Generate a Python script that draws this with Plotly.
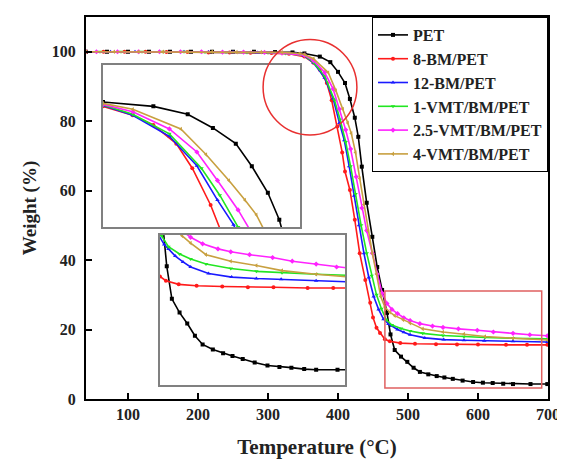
import plotly.graph_objects as go

# ---------------- data ----------------
pet_T = [40, 70, 100, 130, 160, 190, 220, 250, 280, 310, 335, 352, 374, 389, 400, 410, 417, 424, 429, 434,
         441, 449, 456, 463, 470, 475, 481, 490, 499, 508, 517, 529, 541, 552, 564, 578, 593, 607, 621,
         636, 650, 675, 699]
pet_W = [100, 100, 100, 100, 100, 100, 100, 100, 100, 99.9, 99.8, 99.5, 98.6, 97.0, 94.2, 91.0, 86.4, 81.0,
         75.5, 66.9, 56.5, 46.7, 38.0, 31.4, 24.8, 18.6, 14.1, 12.2, 10.7, 9.0, 7.8, 7.1, 6.6, 6.2, 5.8,
         5.3, 4.9, 4.7, 4.6, 4.4, 4.3, 4.3, 4.3]

bm8_T = [40, 65, 95, 125, 155, 185, 215, 245, 275, 305, 330, 352, 365, 374, 384, 391, 399, 406, 410, 417,
         424, 431, 439, 446, 450, 455, 460, 467, 474, 489, 510, 540, 570, 600, 640, 670, 699]
bm8_W = [100, 100, 100, 100, 99.9, 99.9, 99.8, 99.8, 99.7, 99.6, 99.4, 98.6, 96.8, 94.8, 91.0, 86.0, 78.5,
         71.0, 65.5, 60.2, 51.6, 42.0, 34.3, 27.7, 23.5, 20.5, 19.0, 17.2, 16.6, 16.1, 15.9, 15.8, 15.7,
         15.7, 15.6, 15.6, 15.6]

bm12_T = [40, 75, 110, 145, 180, 215, 250, 285, 315, 340, 352, 365, 381, 393, 402, 409, 416, 423, 430, 437,
          444, 451, 458, 465, 472, 477, 485, 494, 503, 524, 551, 580, 609, 650, 699]
bm12_W = [100, 100, 100, 100, 100, 99.9, 99.9, 99.8, 99.7, 99.4, 98.8, 96.8, 92.5, 86.5, 79.5, 74.5, 67.0,
          58.5, 50.0, 42.0, 35.0, 29.5, 25.8, 23.0, 21.6, 21.0, 20.0, 19.2, 18.5, 17.6, 17.1, 16.9, 16.8,
          16.6, 16.4]

vmt1_T = [40, 60, 90, 120, 150, 180, 210, 240, 270, 300, 325, 352, 365, 381, 395, 403, 411, 418, 425, 433,
          441, 448, 455, 462, 469, 477, 490, 503, 521, 550, 580, 610, 650, 699]
vmt1_W = [100, 100, 100, 100, 100, 100, 99.9, 99.9, 99.8, 99.7, 99.5, 98.9, 97.0, 93.0, 86.0, 80.5, 74.0,
          67.0, 59.0, 50.0, 42.0, 35.5, 30.0, 26.0, 22.8, 21.3, 20.3, 19.6, 18.9, 18.3, 17.9, 17.7, 17.5,
          17.3]

vmt25_T = [40, 55, 85, 115, 145, 175, 205, 235, 265, 295, 320, 352, 365, 381, 393, 402, 411, 418, 426, 434,
           441, 449, 456, 463, 470, 477, 485, 494, 503, 517, 535, 550, 572, 599, 622, 650, 674, 699]
vmt25_W = [100, 100, 100, 100, 100, 100, 100, 99.9, 99.9, 99.8, 99.6, 99.0, 97.5, 94.0, 89.3, 83.5, 77.5,
           72.0, 64.0, 55.0, 48.5, 42.0, 36.0, 30.5, 27.5, 25.8, 24.6, 23.4, 22.6, 21.7, 21.0, 20.6, 20.2,
           19.8, 19.3, 18.9, 18.5, 18.2]

vmt4_T = [40, 80, 115, 150, 185, 220, 255, 290, 320, 345, 352, 365, 386, 397, 407, 414, 419, 425, 431, 437,
          443, 449, 455, 461, 467, 474, 481, 493, 503, 521, 550, 580, 610, 650, 699]
vmt4_W = [100, 100, 100, 100, 100, 100, 99.9, 99.9, 99.8, 99.5, 99.2, 98.0, 94.0, 88.8, 83.5, 79.5, 76.5,
          71.0, 63.5, 56.0, 48.5, 42.0, 36.0, 29.5, 26.5, 25.0, 24.0, 22.8, 21.8, 20.2, 19.3, 18.7, 18.0,
          17.5, 17.0]

series_names = ["PET", "8-BM/PET", "12-BM/PET", "1-VMT/BM/PET", "2.5-VMT/BM/PET", "4-VMT/BM/PET"]
series_T = [pet_T, bm8_T, bm12_T, vmt1_T, vmt25_T, vmt4_T]
series_W = [pet_W, bm8_W, bm12_W, vmt1_W, vmt25_W, vmt4_W]

x_tick_vals = [100, 200, 300, 400, 500, 600, 700]
y_tick_vals = [0, 20, 40, 60, 80, 100]

# ---------------- styles ----------------
colors = ["#000000", "#ff1a1a", "#1a1aff", "#22e622", "#ff22ff", "#c8a040"]
symbols = ["square", "circle", "triangle-up", "triangle-down", "diamond", "triangle-left"]
FONT = "Liberation Serif, Times New Roman, serif"

fig = go.Figure()
for ax_x, ax_y, show in [("x", "y", True), ("x2", "y2", False), ("x3", "y3", False)]:
    for name, T, W, c, s in zip(series_names, series_T, series_W, colors, symbols):
        fig.add_trace(go.Scatter(
            x=T, y=W, name=name, mode="lines+markers",
            xaxis=ax_x, yaxis=ax_y, showlegend=show,
            line=dict(color=c, width=1.6),
            marker=dict(color=c, size=4, symbol=s),
        ))

axis_common = dict(showgrid=False, zeroline=False, showline=True, linecolor="black",
                   linewidth=2, mirror=True, ticks="inside", ticklen=6, tickwidth=2,
                   tickcolor="black", automargin=False,
                   tickfont=dict(family=FONT, size=16, color="#222", weight="bold"))
inset_common = dict(showgrid=False, zeroline=False, showline=True, linecolor="#808080",
                    linewidth=1.5, mirror=True, ticks="", showticklabels=False)

fig.update_layout(
    width=557, height=454,
    margin=dict(l=78, r=17, t=9, b=63),
    paper_bgcolor="white", plot_bgcolor="white",
    xaxis=dict(domain=[0, 1], range=[40, 700], tickvals=x_tick_vals, anchor="y",
               title=dict(text="Temperature (°C)", standoff=17,
                          font=dict(family=FONT, size=21, color="#222", weight="bold")),
               **axis_common),
    yaxis=dict(domain=[0, 1], range=[0, 110], tickvals=y_tick_vals, anchor="x",
               ticklabelstandoff=5,
               title=dict(text="Weight (%)", standoff=10,
                          font=dict(family=FONT, size=19, color="#222", weight="bold")),
               **axis_common),
    xaxis2=dict(domain=[0.0368, 0.463], range=[352, 438], anchor="y2", **inset_common),
    yaxis2=dict(domain=[0.450, 0.874], range=[74, 107], anchor="x2", **inset_common),
    xaxis3=dict(domain=[0.160, 0.561], range=[467, 684], anchor="y3", **inset_common),
    yaxis3=dict(domain=[0.0366, 0.429], range=[2.2, 22.9], anchor="x3", **inset_common),
    legend=dict(x=1, y=1, xanchor="right", yanchor="top", bgcolor="white",
                bordercolor="black", borderwidth=1, tracegroupgap=0, itemwidth=30,
                font=dict(family=FONT, size=16, color="#222", weight="bold")),
    showlegend=True,
    shapes=[
        dict(type="circle", xref="x", yref="y", x0=293, x1=427, y0=76, y1=103.5,
             line=dict(color="#e83030", width=1.5)),
        dict(type="rect", xref="x", yref="y", x0=467, x1=691, y0=3.2, y1=31.1,
             line=dict(color="#e06060", width=1.5)),
    ],
)

fig.write_html("out.html")
